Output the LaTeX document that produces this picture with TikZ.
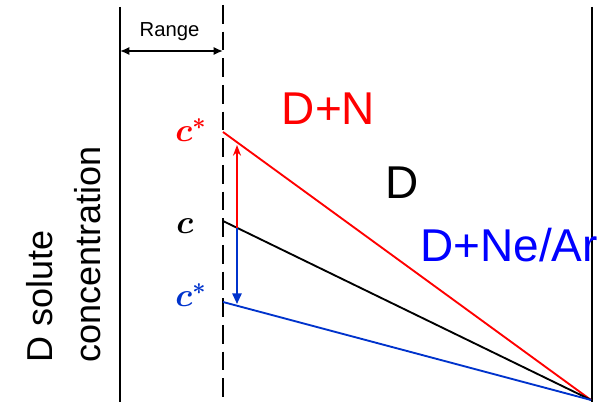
\documentclass[tikz,border=0pt]{standalone}
\usepackage{fontspec}
\setmainfont{Liberation Sans}
\usetikzlibrary{arrows.meta}
\definecolor{pred}{RGB}{255,0,0}
\definecolor{pblue}{RGB}{0,0,255}
\definecolor{lblue}{RGB}{0,51,204}
\tikzset{
  wall/.style={line width=1.6pt, black},
  dashwall/.style={line width=1.5pt, black, dash pattern=on 14pt off 6pt},
  prof/.style={line width=1.4pt},
  big/.style={inner sep=0pt, anchor=base, font=\fontsize{34.5}{40}\selectfont},
  clabel/.style={inner sep=0pt, anchor=base west, font=\fontsize{24}{28}\selectfont\boldmath},
  ylab/.style={inner sep=0pt, rotate=90, anchor=base west, font=\fontsize{27}{32}\selectfont},
}
\begin{document}
\begin{tikzpicture}[x=0.75pt, y=-0.75pt]
\useasboundingbox (0,0) rectangle (608,402);
% walls
\coordinate (lt) at (120,7);
\coordinate (lb) at (120,402);
\coordinate (dt) at (223,5);
\coordinate (db) at (223,402);
\coordinate (rt) at (592,7);
\coordinate (rb) at (592,402);
\draw[wall] (lt) -- (lb);
\draw[wall] (rt) -- (rb);
\draw[dashwall] (dt) -- (db);
% range
\coordinate (ra) at (120,51);
\coordinate (rb2) at (223,51);
\draw[line width=1.2pt, {Latex[length=7pt,width=6pt]}-{Latex[length=7pt,width=6pt]}] (ra) -- (rb2);
\node[inner sep=0pt, anchor=base, font=\fontsize{15.2}{18}\selectfont] (range) at (169.5,37) {Range};
% profiles
\coordinate (redstart) at (223,132);
\coordinate (blkstart) at (223,221);
\coordinate (blustart) at (223,302);
\coordinate (sink) at (591,400);
\draw[prof, pred] (redstart) -- (sink);
\draw[prof, black] (blkstart) -- (sink);
\draw[prof, lblue] (blustart) -- (sink);
% arrows
\coordinate (mid) at (237,228);
\coordinate (uptip) at (237,145);
\coordinate (dntip) at (237,304);
\draw[line width=1.3pt, pred, -{Stealth[length=8pt,width=6pt]}] (mid) -- (uptip);
\draw[line width=1.3pt, lblue, -{Triangle[length=8pt,width=7pt]}] (mid) -- (dntip);
% c labels
\node[clabel, text=pred] (cr) at (175,142) {$c^{*}$};
\node[clabel, text=black] (cb) at (176,234) {$c$};
\node[clabel, text=lblue] (cbl) at (175,307) {$c^{*}$};
% region labels
\node[big, text=pred] (dn) at (328.5,125) {D+N};
\node[big, text=black] (d) at (402,199) {D};
\node[big, text=pblue] (dne) at (509,262) {D+Ne/Ar};
% axis label
\node[ylab] (yl1) at (52,363) {D solute};
\node[ylab] (yl2) at (100,363) {concentration};
\end{tikzpicture}
\end{document}
